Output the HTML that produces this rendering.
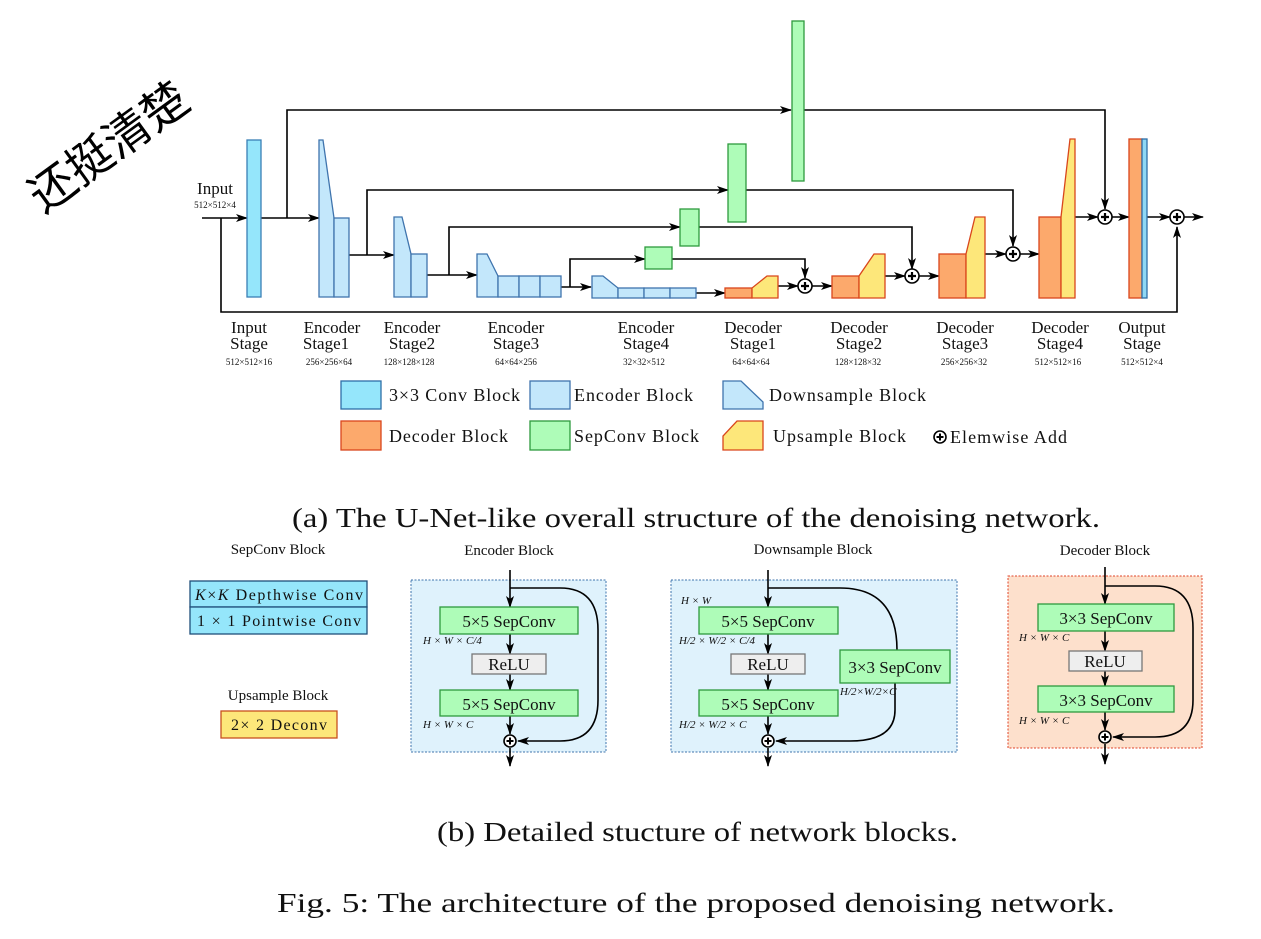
<!DOCTYPE html>
<html><head><meta charset="utf-8"><style>
html,body{margin:0;padding:0;background:#fff;}
svg{display:block;font-family:"Liberation Serif",serif;}
</style></head><body>
<svg width="1261" height="939" viewBox="0 0 1261 939" xmlns="http://www.w3.org/2000/svg">
<defs>
<marker id="a" markerWidth="12" markerHeight="8" refX="11" refY="4" orient="auto" markerUnits="userSpaceOnUse">
<path d="M0,0 L12,4 L0,8 L3,4 Z" fill="#000"/></marker>
</defs>
<!-- watermark -->
<text x="0" y="0" transform="translate(118,160) rotate(-36)" text-anchor="middle" font-family="'WenQuanYi Zen Hei','Noto Sans CJK SC',sans-serif" font-size="46">还挺清楚</text>

<g stroke="#000" stroke-width="1.6" fill="none">
<line x1="202" y1="218" x2="247" y2="218" marker-end="url(#a)"/>
<polyline points="221,218 221,312 1177,312 1177,227" marker-end="url(#a)"/>
<line x1="261" y1="218" x2="319" y2="218" marker-end="url(#a)"/>
<polyline points="287,218 287,110 791,110" marker-end="url(#a)"/>
<polyline points="804,110 1105,110 1105,209" marker-end="url(#a)"/>
<line x1="349" y1="255" x2="394" y2="255" marker-end="url(#a)"/>
<polyline points="367,255 367,190 728,190" marker-end="url(#a)"/>
<polyline points="746,190 1013,190 1013,246" marker-end="url(#a)"/>
<line x1="427" y1="275" x2="477" y2="275" marker-end="url(#a)"/>
<polyline points="449,275 449,227 680,227" marker-end="url(#a)"/>
<polyline points="699,227 912,227 912,269" marker-end="url(#a)"/>
<line x1="561" y1="287" x2="591" y2="287" marker-end="url(#a)"/>
<polyline points="570,287 570,259 645,259" marker-end="url(#a)"/>
<polyline points="672,259 805,259 805,278" marker-end="url(#a)"/>
<line x1="696" y1="293" x2="725" y2="293" marker-end="url(#a)"/>
<line x1="778" y1="286" x2="798" y2="286" marker-end="url(#a)"/>
<line x1="812" y1="286" x2="832" y2="286" marker-end="url(#a)"/>
<line x1="885" y1="276" x2="905" y2="276" marker-end="url(#a)"/>
<line x1="919" y1="276" x2="939" y2="276" marker-end="url(#a)"/>
<line x1="985" y1="254" x2="1006" y2="254" marker-end="url(#a)"/>
<line x1="1020" y1="254" x2="1039" y2="254" marker-end="url(#a)"/>
<line x1="1075" y1="217" x2="1098" y2="217" marker-end="url(#a)"/>
<line x1="1112" y1="217" x2="1129" y2="217" marker-end="url(#a)"/>
<line x1="1147" y1="217" x2="1170" y2="217" marker-end="url(#a)"/>
<line x1="1184" y1="217" x2="1203" y2="217" marker-end="url(#a)"/>
</g>
<g stroke-width="1.3">
<rect x="247" y="140" width="14" height="157" fill="#95e6fb" stroke="#3a7fb5"/>
<g fill="#c3e7fb" stroke="#3f74ad">
<polygon points="319,140 323,140 334,218 334,297 319,297"/><rect x="334" y="218" width="15" height="79"/>
<polygon points="394,217 402,217 411,254 411,297 394,297"/><rect x="411" y="254" width="16" height="43"/>
<polygon points="477,254 487,254 498,276 498,297 477,297"/><rect x="498" y="276" width="21" height="21"/><rect x="519" y="276" width="21" height="21"/><rect x="540" y="276" width="21" height="21"/>
<polygon points="592,276 603,276 618,288 618,298 592,298"/><rect x="618" y="288" width="26" height="10"/><rect x="644" y="288" width="26" height="10"/><rect x="670" y="288" width="26" height="10"/>
</g>
<g fill="#aefcb8" stroke="#2e9a3e">
<rect x="645" y="247" width="27" height="22"/><rect x="680" y="209" width="19" height="37"/><rect x="728" y="144" width="18" height="78"/><rect x="792" y="21" width="12" height="160"/>
</g>
<g stroke="#d9461c">
<rect x="725" y="288" width="27" height="10" fill="#fca96c"/><polygon points="752,298 752,288 767,276 778,276 778,298" fill="#fde77a"/>
<rect x="832" y="276" width="27" height="22" fill="#fca96c"/><polygon points="859,298 859,276 874,254 885,254 885,298" fill="#fde77a"/>
<rect x="939" y="254" width="27" height="44" fill="#fca96c"/><polygon points="966,298 966,254 975,217 985,217 985,298" fill="#fde77a"/>
<rect x="1039" y="217" width="22" height="81" fill="#fca96c"/><polygon points="1061,298 1061,217 1070,139 1075,139 1075,298" fill="#fde77a"/>
<rect x="1129" y="139" width="13" height="159" fill="#fca96c"/>
</g>
<rect x="1142" y="139" width="5" height="159" fill="#8fd8f5" stroke="#2e6fa8"/>
</g>
<g fill="#fff" stroke="#000" stroke-width="1.6">
<circle cx="805" cy="286" r="7"/><circle cx="912" cy="276" r="7"/><circle cx="1013" cy="254" r="7"/><circle cx="1105" cy="217" r="7"/><circle cx="1177" cy="217" r="7"/>
</g>
<g stroke="#000" stroke-width="2.2">
<path d="M801,286h8M805,282v8M908,276h8M912,272v8M1009,254h8M1013,250v8M1101,217h8M1105,213v8M1173,217h8M1177,213v8"/>
</g>
<g font-size="17" text-anchor="middle" fill="#111">
<text x="215" y="194">Input</text>
<text x="215" y="208" font-size="9">512×512×4</text>
<text x="249" y="333">Input</text><text x="249" y="349">Stage</text><text x="249" y="365" font-size="9">512×512×16</text>
<text x="332" y="333">Encoder</text><text x="326" y="349">Stage1</text><text x="329" y="365" font-size="9">256×256×64</text>
<text x="412" y="333">Encoder</text><text x="412" y="349">Stage2</text><text x="409" y="365" font-size="9">128×128×128</text>
<text x="516" y="333">Encoder</text><text x="516" y="349">Stage3</text><text x="516" y="365" font-size="9">64×64×256</text>
<text x="646" y="333">Encoder</text><text x="646" y="349">Stage4</text><text x="644" y="365" font-size="9">32×32×512</text>
<text x="753" y="333">Decoder</text><text x="753" y="349">Stage1</text><text x="751" y="365" font-size="9">64×64×64</text>
<text x="859" y="333">Decoder</text><text x="859" y="349">Stage2</text><text x="858" y="365" font-size="9">128×128×32</text>
<text x="965" y="333">Decoder</text><text x="965" y="349">Stage3</text><text x="964" y="365" font-size="9">256×256×32</text>
<text x="1060" y="333">Decoder</text><text x="1060" y="349">Stage4</text><text x="1058" y="365" font-size="9">512×512×16</text>
<text x="1142" y="333">Output</text><text x="1142" y="349">Stage</text><text x="1142" y="365" font-size="9">512×512×4</text>
</g>
<g stroke-width="1.3">
<rect x="341" y="381" width="40" height="28" fill="#95e6fb" stroke="#2e6fa8"/>
<rect x="530" y="381" width="40" height="28" fill="#c3e7fb" stroke="#3f74ad"/>
<polygon points="723,381 741,381 763,402 763,409 723,409" fill="#c3e7fb" stroke="#3f74ad"/>
<rect x="341" y="421" width="40" height="29" fill="#fca96c" stroke="#d9461c"/>
<rect x="530" y="421" width="40" height="29" fill="#aefcb8" stroke="#2e9a3e"/>
<polygon points="723,450 723,436 737,421 763,421 763,450" fill="#fde77a" stroke="#d9461c"/>
</g>
<circle cx="940" cy="437" r="6" fill="#fff" stroke="#000" stroke-width="1.6"/>
<path d="M936.5,437h7M940,433.5v7" stroke="#000" stroke-width="2"/>
<g font-size="18" fill="#111">
<text x="389" y="401" textLength="131">3×3 Conv Block</text><text x="574" y="401" textLength="119">Encoder Block</text><text x="769" y="401" textLength="157">Downsample Block</text>
<text x="389" y="442" textLength="119">Decoder Block</text><text x="574" y="442" textLength="125">SepConv Block</text><text x="773" y="442" textLength="133">Upsample Block</text><text x="950" y="443" textLength="117">Elemwise Add</text>
</g>
<g font-size="27" fill="#111">
<text x="292" y="527" textLength="808" lengthAdjust="spacingAndGlyphs">(a) The U-Net-like overall structure of the denoising network.</text>
<text x="437" y="841" textLength="521" lengthAdjust="spacingAndGlyphs">(b) Detailed stucture of network blocks.</text>
<text x="277" y="912" textLength="838" lengthAdjust="spacingAndGlyphs">Fig. 5: The architecture of the proposed denoising network.</text>
</g>
<g font-size="15" text-anchor="middle" fill="#111">
<text x="278" y="554">SepConv Block</text><text x="278" y="700">Upsample Block</text>
<text x="509" y="555">Encoder Block</text><text x="813" y="554">Downsample Block</text><text x="1105" y="555">Decoder Block</text>
</g>
<rect x="190" y="581" width="177" height="26" fill="#95e6fb" stroke="#1f4f7a" stroke-width="1.3"/>
<rect x="190" y="607" width="177" height="27" fill="#95e6fb" stroke="#1f4f7a" stroke-width="1.3"/>
<rect x="221" y="711" width="116" height="27" fill="#fde77a" stroke="#c8501e" stroke-width="1.3"/>
<g font-size="16" fill="#111" text-anchor="middle">
<text x="279" y="600" textLength="168"><tspan font-style="italic">K</tspan>×<tspan font-style="italic">K</tspan> Depthwise Conv</text>
<text x="279" y="626" textLength="164">1 × 1 Pointwise Conv</text>
<text x="279" y="730" textLength="96">2× 2 Deconv</text>
</g>
<rect x="411" y="580" width="195" height="172" fill="#dff2fc" stroke="#3f74ad" stroke-dasharray="2,1.5"/>
<rect x="671" y="580" width="286" height="172" fill="#dff2fc" stroke="#3f74ad" stroke-dasharray="2,1.5"/>
<rect x="1008" y="576" width="194" height="172" fill="#fde0cc" stroke="#e0452a" stroke-dasharray="2,1.5"/>
<g stroke="#000" stroke-width="1.6" fill="none">
<line x1="510" y1="570" x2="510" y2="607" marker-end="url(#a)"/><line x1="510" y1="634" x2="510" y2="654" marker-end="url(#a)"/><line x1="510" y1="674" x2="510" y2="690" marker-end="url(#a)"/><line x1="510" y1="716" x2="510" y2="734" marker-end="url(#a)"/><line x1="510" y1="748" x2="510" y2="766" marker-end="url(#a)"/>
<path d="M510,588 H560 Q598,588 598,630 V700 Q598,741 560,741 H518" marker-end="url(#a)"/>
<line x1="768" y1="570" x2="768" y2="607" marker-end="url(#a)"/><line x1="768" y1="634" x2="768" y2="654" marker-end="url(#a)"/><line x1="768" y1="674" x2="768" y2="690" marker-end="url(#a)"/><line x1="768" y1="716" x2="768" y2="734" marker-end="url(#a)"/><line x1="768" y1="748" x2="768" y2="766" marker-end="url(#a)"/>
<path d="M768,588 H840 Q897,588 897,650"/>
<path d="M895,683 V710 Q895,741 850,741 H776" marker-end="url(#a)"/>
<line x1="1105" y1="567" x2="1105" y2="604" marker-end="url(#a)"/><line x1="1105" y1="631" x2="1105" y2="651" marker-end="url(#a)"/><line x1="1105" y1="671" x2="1105" y2="686" marker-end="url(#a)"/><line x1="1105" y1="712" x2="1105" y2="730" marker-end="url(#a)"/><line x1="1105" y1="744" x2="1105" y2="764" marker-end="url(#a)"/>
<path d="M1105,586 H1155 Q1193,586 1193,628 V700 Q1193,737 1155,737 H1113" marker-end="url(#a)"/>
</g>
<g stroke-width="1.3">
<g fill="#aefcb8" stroke="#2e9a3e">
<rect x="440" y="607" width="138" height="27"/><rect x="440" y="690" width="138" height="26"/>
<rect x="699" y="607" width="139" height="27"/><rect x="699" y="690" width="139" height="26"/><rect x="840" y="650" width="110" height="33"/>
<rect x="1038" y="604" width="136" height="27"/><rect x="1038" y="686" width="136" height="26"/>
</g>
<g fill="#eeeeee" stroke="#777">
<rect x="472" y="654" width="74" height="20"/><rect x="731" y="654" width="74" height="20"/><rect x="1069" y="651" width="73" height="20"/>
</g>
</g>
<g fill="#fff" stroke="#000" stroke-width="1.6">
<circle cx="510" cy="741" r="6"/><circle cx="768" cy="741" r="6"/><circle cx="1105" cy="737" r="6"/>
</g>
<path d="M506.5,741h7M510,737.5v7M764.5,741h7M768,737.5v7M1101.5,737h7M1105,733.5v7" stroke="#000" stroke-width="2"/>
<g font-size="17" fill="#111" text-anchor="middle">
<text x="509" y="627">5×5 SepConv</text><text x="509" y="670">ReLU</text><text x="509" y="710">5×5 SepConv</text>
<text x="768" y="627">5×5 SepConv</text><text x="768" y="670">ReLU</text><text x="768" y="710">5×5 SepConv</text><text x="895" y="673">3×3 SepConv</text>
<text x="1106" y="624">3×3 SepConv</text><text x="1105" y="667">ReLU</text><text x="1106" y="706">3×3 SepConv</text>
</g>
<g font-size="11" font-style="italic" fill="#111">
<text x="423" y="644">H × W × C/4</text><text x="423" y="728">H × W × C</text>
<text x="681" y="604">H × W</text><text x="679" y="644">H/2 × W/2 × C/4</text><text x="679" y="728">H/2 × W/2 × C</text><text x="840" y="695">H/2×W/2×C</text>
<text x="1019" y="641">H × W × C</text><text x="1019" y="724">H × W × C</text>
</g>
</svg>
</body></html>
